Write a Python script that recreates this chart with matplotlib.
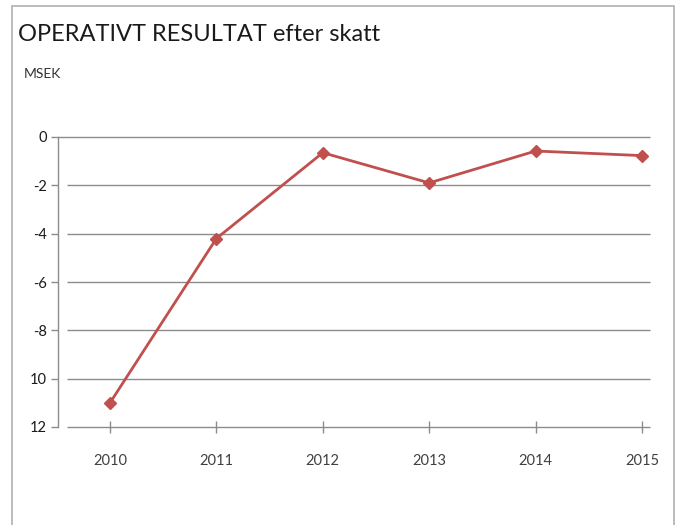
import matplotlib
matplotlib.use("Agg")
import matplotlib.pyplot as plt
from matplotlib.patches import Rectangle

years = [2010, 2011, 2012, 2013, 2014, 2015]
values = [-11.0, -4.2, -0.65, -1.9, -0.58, -0.77]
ytick_vals = [0, -2, -4, -6, -8, -10, -12]
ytick_labels = ["0", "-2", "-4", "-6", "-8", "10", "12"]
title = "OPERATIVT RESULTAT efter skatt"
unit = "MSEK"

W, H = 678, 525
fig = plt.figure(figsize=(W / 100, H / 100), dpi=100)
fig.patch.set_facecolor("white")

# figure border (open at bottom)
fig.patches.append(Rectangle((12 / W, -0.05), (674 - 12) / W, 1 - 6 / H + 0.05,
                             transform=fig.transFigure, fill=False,
                             edgecolor="#b0b0b0", linewidth=1.2))

ax_l, ax_r = 58 / W, 650 / W
ax_b, ax_t = 1 - 427 / H, 1 - 137 / H
ax = fig.add_axes([ax_l, ax_b, ax_r - ax_l, ax_t - ax_b])
ax.set_facecolor("none")

step = (642 - 110) / 5
x0 = 2010 - (110 - 58) / step
x1 = 2015 + (650 - 642) / step
xg = 2010 - (110 - 67) / step
ax.set_xlim(x0, x1)
ax.set_ylim(-12, 0)

grid_c = "#8c8c8c"
for v in ytick_vals:
    start = x0 if v == 0 else xg
    ax.hlines(v, start, x1, color=grid_c, linewidth=1.0, zorder=1, clip_on=False)

for s in ["top", "right", "bottom"]:
    ax.spines[s].set_visible(False)
ax.spines["left"].set_color(grid_c)
ax.spines["left"].set_linewidth(1.0)

fam = ["Lato", "DejaVu Sans"]
ax.set_yticks(ytick_vals)
ax.set_yticklabels(ytick_labels, fontsize=10.5, color="#1a1a1a", family=fam)
ax.tick_params(axis="y", direction="out", length=5, width=1.0, color=grid_c, pad=3)

ax.set_xticks(years)
ax.set_xticklabels([str(y) for y in years], fontsize=10.5, color="#404040", family=fam)
ax.tick_params(axis="x", direction="inout", length=9, width=1.0, color=grid_c, pad=15)

ax.plot(years, values, color="#C0504D", linewidth=2.0, marker="D", markersize=6,
        markerfacecolor="#C0504D", markeredgecolor="#C0504D", zorder=3, clip_on=False)

fig.text(18 / W, 1 - 41 / H, title, fontsize=17, color="#1a1a1a",
         family=fam, ha="left", va="baseline")
fig.text(24 / W, 1 - 78 / H, unit, fontsize=10, color="#333333",
         family=fam, ha="left", va="baseline")

fig.savefig("out.png", dpi=100)
